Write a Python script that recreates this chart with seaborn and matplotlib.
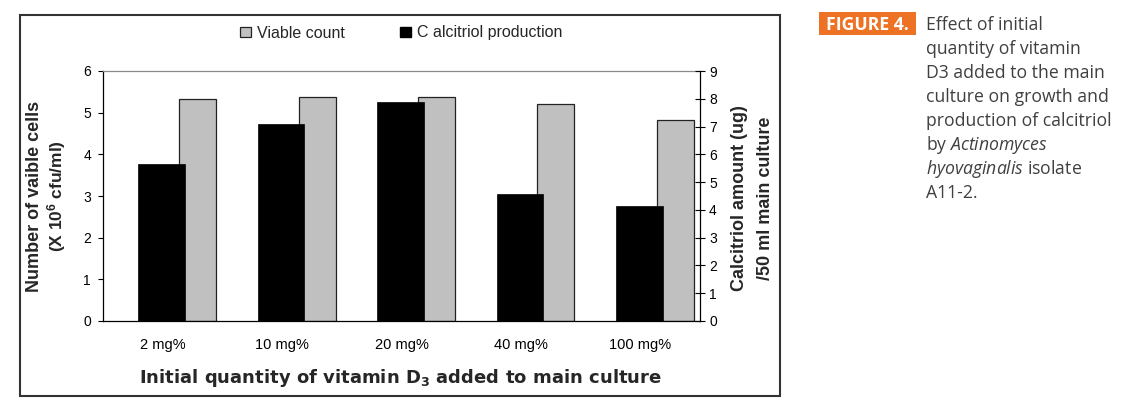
import numpy as np
import pandas as pd
import matplotlib
matplotlib.use("Agg")
import matplotlib.pyplot as plt
from matplotlib.patches import Rectangle, Patch
import seaborn as sns

# ---- data ----
categories = ['2 mg%', '10 mg%', '20 mg%', '40 mg%', '100 mg%']
viable_count = [5.34, 5.38, 5.38, 5.20, 4.83]          # X 10^6 cfu/ml (left axis)
calcitriol = [5.65, 7.09, 7.87, 4.56, 4.15]            # ug / 50 ml (right axis)
left_ticks = [0, 1, 2, 3, 4, 5, 6]
right_ticks = [0, 1, 2, 3, 4, 5, 6, 7, 8, 9]

sns.set_style("white")
plt.rcParams['font.family'] = ['Liberation Sans', 'DejaVu Sans']
plt.rcParams['mathtext.default'] = 'regular'
plt.rcParams['mathtext.fontset'] = 'custom'
plt.rcParams['mathtext.it'] = 'Open Sans:italic'
plt.rcParams['mathtext.rm'] = 'Open Sans'

W, H = 1121, 405
fig = plt.figure(figsize=(W / 100, H / 100), dpi=100)
ax = fig.add_axes([103 / W, 1 - 321 / H, (700 - 103) / W, 250 / H])
ax2 = ax.twinx()

df = pd.DataFrame({'cat': categories, 'viable': viable_count, 'calc': calcitriol})

GRAY = '#C0C0C0'
sns.barplot(data=df, x='cat', y='viable', ax=ax, color=GRAY, width=0.31,
            edgecolor='#222222', linewidth=0.9, saturation=1)
for p in ax.patches:
    p.set_x(p.get_x() + 0.293)

sns.barplot(data=df, x='cat', y='calc', ax=ax2, color='black', width=0.39,
            edgecolor='black', linewidth=0.5, saturation=1)
for p in ax2.patches:
    p.set_x(p.get_x() - 0.008)

ax.set_xlim(-0.5, len(categories) - 0.5)
ax.set_ylim(0, 6)
ax2.set_ylim(0, 9)
ax.set_yticks(left_ticks)
ax2.set_yticks(right_ticks)

# x ticks: marks at boundaries, labels at centres
ax.set_xticks(np.arange(-0.5, len(categories)), labels=[''] * (len(categories) + 1))
ax.set_xticks(np.arange(len(categories)), labels=categories, minor=True)
ax.tick_params(axis='x', which='major', direction='out', length=3.6, width=0.8, color='black')
ax.tick_params(axis='x', which='minor', length=0, pad=12, labelsize=10.5, labelcolor='black')
ax.tick_params(axis='y', direction='out', length=3.6, width=0.8, color='black', pad=5,
               labelsize=10, labelcolor='black', left=True)
ax2.tick_params(axis='y', direction='inout', length=7, width=0.8, color='black', pad=3,
                labelsize=10, labelcolor='black', right=True)

for s in ['left', 'bottom']:
    ax.spines[s].set_color('black')
    ax.spines[s].set_linewidth(0.9)
ax.spines['top'].set_color('#8a8a8a')
ax.spines['top'].set_linewidth(0.9)
ax.spines['right'].set_visible(False)
for s in ['left', 'top', 'bottom']:
    ax2.spines[s].set_visible(False)
ax2.spines['right'].set_color('black')
ax2.spines['right'].set_linewidth(0.9)
ax.set_ylabel('')
ax2.set_ylabel('')
ax.set_xlabel('')
ax.grid(False)
ax2.grid(False)

# axis titles
fig.text(400.5 / W, 1 - 383 / H, 'Initial quantity of vitamin D$_3$ added to main culture',
         ha='center', va='baseline', fontsize=13, fontweight='bold', family='DejaVu Sans')
fig.text(35 / W, 1 - 196.5 / H, 'Number of vaible cells', rotation=90, ha='center', va='center',
         fontsize=13, fontweight='bold')
fig.text(57 / W, 1 - 196.5 / H, '(X 10$^6$ cfu/ml)', rotation=90, ha='center', va='center',
         fontsize=12.5, fontweight='bold')
fig.text(740 / W, 1 - 198 / H, 'Calcitriol amount (ug)', rotation=90, ha='center', va='center',
         fontsize=13, fontweight='bold')
fig.text(765 / W, 1 - 198 / H, '/50 ml main culture', rotation=90, ha='center', va='center',
         fontsize=13, fontweight='bold')

# legend
handles = [Patch(facecolor=GRAY, edgecolor='#222222', linewidth=0.9, label='Viable count'),
           Patch(facecolor='black', edgecolor='black', label='C alcitriol production')]
fig.legend(handles=handles, loc='center left', bbox_to_anchor=(240 / W, 1 - 33 / H),
           ncol=2, frameon=False, fontsize=11.5, handlelength=0.69, handleheight=0.56,
           handletextpad=0.4, columnspacing=3.4, borderpad=0, borderaxespad=0)

# outer frame
fig.add_artist(Rectangle((20 / W, 1 - 396 / H), 760 / W, 381 / H, transform=fig.transFigure,
                         fill=False, edgecolor='#333333', linewidth=1.5))

# caption
fig.add_artist(Rectangle((819 / W, 1 - 35 / H), 97 / W, 23 / H, transform=fig.transFigure,
                         facecolor='#EE7224', edgecolor='none'))
fig.text(867.5 / W, 1 - 29.5 / H, 'FIGURE 4.', ha='center', va='baseline', color='white',
         fontsize=12.7, fontweight='bold', family='Open Sans')
caption_lines = ['Effect of initial', 'quantity of vitamin', 'D3 added to the main',
                 'culture on growth and', 'production of calcitriol', 'by $\\it{Actinomyces}$',
                 '$\\it{hyovaginalis}$ isolate', 'A11-2.']
for i, line in enumerate(caption_lines):
    fig.text(926 / W, 1 - (30 + 24 * i) / H, line, ha='left', va='baseline', color='#404040',
             fontsize=12.7, family='Open Sans')

fig.savefig('out.png', dpi=100)
